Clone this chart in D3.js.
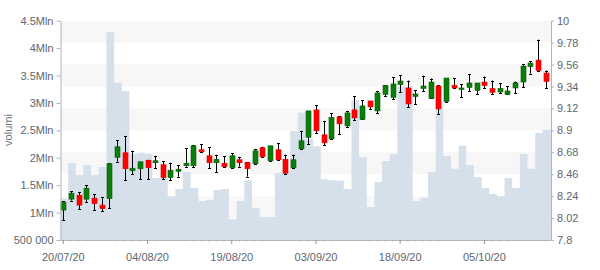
<!DOCTYPE html>
<html>
<head>
<meta charset="utf-8">
<script src="https://cdn.jsdelivr.net/npm/d3@7"></script>
<style>
  html, body { margin: 0; padding: 0; background: #fff; }
  svg { display: block; font-family: "Liberation Sans", Arial, sans-serif; }
</style>
</head>
<body>
<svg id="chart" width="600" height="270"></svg>
<script>
const dates = ["20/07/20","21/07/20","22/07/20","23/07/20","24/07/20","27/07/20","28/07/20","29/07/20","30/07/20","31/07/20",
"03/08/20","04/08/20","05/08/20","06/08/20","07/08/20","10/08/20","11/08/20","12/08/20","13/08/20","14/08/20","17/08/20","18/08/20","19/08/20","20/08/20","21/08/20","24/08/20","25/08/20","26/08/20","27/08/20","28/08/20","31/08/20",
"01/09/20","02/09/20","03/09/20","04/09/20","07/09/20","08/09/20","09/09/20","10/09/20","11/09/20","14/09/20","15/09/20","16/09/20","17/09/20","18/09/20","21/09/20","22/09/20","23/09/20","24/09/20","25/09/20","28/09/20","29/09/20","30/09/20",
"01/10/20","02/10/20","05/10/20","06/10/20","07/10/20","08/10/20","09/10/20","12/10/20","13/10/20","14/10/20","15/10/20"];

const open  = [8.10,8.21,8.25,8.21,8.22,8.15,8.215,8.63,8.675,8.495,8.515,8.60,8.575,8.555,8.425,8.49,8.545,8.545,8.705,8.645,8.575,8.57,8.525,8.605,8.58,8.565,8.725,8.595,8.705,8.61,8.525,8.715,8.83,9.105,8.855,8.815,9.035,8.945,9.105,9.01,9.195,9.095,9.26,9.23,9.36,9.325,9.24,9.32,9.22,9.345,9.19,9.35,9.31,9.33,9.30,9.385,9.32,9.285,9.26,9.325,9.385,9.54,9.605,9.475];
const high  = [8.19,8.29,8.28,8.35,8.26,8.23,8.57,8.80,8.845,8.695,8.585,8.605,8.645,8.59,8.575,8.55,8.72,8.75,8.76,8.73,8.655,8.64,8.67,8.635,8.58,8.715,8.735,8.745,8.77,8.655,8.655,8.895,9.095,9.15,8.995,9.07,9.04,9.095,9.24,9.20,9.195,9.295,9.355,9.435,9.455,9.40,9.30,9.45,9.42,9.35,9.425,9.425,9.36,9.465,9.375,9.44,9.40,9.375,9.34,9.39,9.565,9.595,9.81,9.50];
const low   = [8.00,8.195,8.11,8.18,8.10,8.09,8.12,8.585,8.40,8.46,8.41,8.41,8.52,8.41,8.40,8.435,8.535,8.53,8.685,8.52,8.48,8.535,8.525,8.535,8.435,8.565,8.63,8.595,8.605,8.465,8.525,8.715,8.76,8.87,8.75,8.815,8.86,8.93,9.00,9.01,9.11,9.07,9.24,9.21,9.28,9.13,9.16,9.29,9.22,9.06,9.185,9.32,9.23,9.29,9.26,9.325,9.26,9.27,9.26,9.27,9.33,9.47,9.50,9.32];
const close = [8.18,8.27,8.15,8.32,8.165,8.115,8.565,8.735,8.515,8.52,8.585,8.525,8.595,8.425,8.50,8.51,8.57,8.745,8.685,8.575,8.61,8.535,8.645,8.575,8.515,8.695,8.635,8.745,8.605,8.47,8.605,8.795,9.095,8.895,8.775,9.03,8.965,9.075,9.025,9.145,9.135,9.275,9.35,9.365,9.395,9.165,9.265,9.345,9.385,9.115,9.425,9.325,9.325,9.375,9.375,9.35,9.28,9.32,9.295,9.375,9.545,9.575,9.50,9.39];
const volume = [1250000,1900000,1690000,1870000,1690000,1830000,4290000,3370000,3220000,2070000,2090000,2070000,1630000,1630000,1300000,1430000,1740000,1450000,1210000,1230000,1410000,1430000,880000,1210000,1590000,1080000,920000,920000,1720000,1760000,2490000,2820000,2340000,2210000,1610000,1590000,1580000,1430000,3050000,2010000,1100000,1560000,1940000,2070000,3300000,3300000,1210000,1270000,1740000,3020000,2030000,1800000,2220000,1870000,1650000,1450000,1340000,1300000,1630000,1450000,2070000,1800000,2450000,2510000];

const volTicks = [500000,1000000,1500000,2000000,2500000,3000000,3500000,4000000,4500000];
const volTickLabels = ["500 000","1Mln","1.5Mln","2Mln","2.5Mln","3Mln","3.5Mln","4Mln","4.5Mln"];
const priceTicks = [7.8,8.02,8.24,8.46,8.68,8.9,9.12,9.34,9.56,9.78,10];
const priceTickLabels = ["7.8","8.02","8.24","8.46","8.68","8.9","9.12","9.34","9.56","9.78","10"];
const xTickLabels = ["20/07/20","04/08/20","19/08/20","03/09/20","18/09/20","05/10/20"];
const axisTitle = "volumi";

(function draw() {
  const svg = d3.select("#chart");
  const pL = 60.5, pR = 550.5, pT = 20.7, pB = 240;
  const axisColor = "#b4b4b4", textColor = "#5e6670";

  const x = d3.scaleBand().domain(dates).range([pL, pR]).padding(0);
  const yVol = d3.scaleLinear().domain([500000, 4500000]).range([pB, pT]);
  const yPrice = d3.scaleLinear().domain([7.8, 10]).range([pB, pT]);
  const candleW = 5;
  const cx = d => x(d) + 0.3 + candleW / 2;

  // alternating bands
  const bands = svg.append("g");
  for (let i = priceTicks.length - 1; i > 0; i -= 2) {
    bands.append("rect")
      .attr("x", pL).attr("width", pR - pL + 0.5)
      .attr("y", yPrice(priceTicks[i])).attr("height", yPrice(priceTicks[i-1]) - yPrice(priceTicks[i]))
      .attr("fill", "#f7f7f7");
  }

  // volume step area
  const volPts = dates.map((d, i) => ({ x: x(d), v: volume[i] }));
  volPts.push({ x: pR + 0.5, v: volume[volume.length - 1] });
  svg.append("path")
    .datum(volPts)
    .attr("fill", "#d6e0ea")
    .attr("d", d3.area().curve(d3.curveStepAfter).x(p => p.x).y0(pB).y1(p => yVol(p.v)));

  // candles
  const cg = svg.append("g");
  dates.forEach((d, i) => {
    const c = Math.round(cx(d)) + 0.5;
    const up = close[i] >= open[i];
    const g = cg.append("g");
    g.append("line").attr("x1", c).attr("x2", c)
      .attr("y1", yPrice(high[i])).attr("y2", yPrice(low[i]))
      .attr("stroke", "#000").attr("stroke-width", 1);
    [high[i], low[i]].forEach(v => {
      g.append("line").attr("x1", c - 1.5).attr("x2", c + 1.5)
        .attr("y1", Math.round(yPrice(v)) + 0.5).attr("y2", Math.round(yPrice(v)) + 0.5)
        .attr("stroke", "#000").attr("stroke-width", 1);
    });
    const yT = yPrice(Math.max(open[i], close[i]));
    const yB = yPrice(Math.min(open[i], close[i]));
    g.append("rect")
      .attr("x", c - candleW / 2).attr("width", candleW)
      .attr("y", yT).attr("height", Math.max(1.5, yB - yT))
      .attr("fill", up ? "#0a7d0a" : "#ff0000")
      .attr("stroke", up ? "#056005" : "#e00000").attr("stroke-width", 0.6);
  });

  // left axis
  const gl = svg.append("g").attr("transform", `translate(${pL},0)`)
    .call(d3.axisLeft(yVol).tickValues(volTicks).tickFormat((v, i) => volTickLabels[i]).tickSize(4).tickPadding(3).tickSizeOuter(0));
  // right axis
  const gr = svg.append("g").attr("transform", `translate(${pR + 0.5},0)`)
    .call(d3.axisRight(yPrice).tickValues(priceTicks).tickFormat((v, i) => priceTickLabels[i]).tickSize(3).tickPadding(3).tickSizeOuter(0));
  // x axis minor ticks
  const gxm = svg.append("g").attr("transform", `translate(0,${pB})`)
    .call(d3.axisBottom(x).tickSize(2).tickFormat(""))
    .call(g => g.selectAll(".tick").attr("transform", d => `translate(${cx(d)},0)`));
  gxm.selectAll(".tick line").attr("stroke", "#d8d8d8");
  gxm.select(".domain").remove();
  // x axis major ticks
  const gx = svg.append("g").attr("transform", `translate(0,${pB})`)
    .call(d3.axisBottom(x).tickValues(xTickLabels).tickSize(4).tickPadding(9).tickSizeOuter(0))
    .call(g => g.selectAll(".tick").attr("transform", d => `translate(${cx(d)},0)`));
  gx.select(".domain").attr("d", `M${pL},0.5H${pR + 0.5}`);

  [gl, gr, gx].forEach(g => {
    g.select(".domain").attr("stroke", axisColor);
    g.selectAll("text").attr("fill", textColor).attr("font-size", 11).attr("font-family", "Liberation Sans, Arial, sans-serif");
  });
  gl.selectAll(".tick line").attr("stroke", axisColor);
  gr.selectAll(".tick line").attr("stroke", axisColor);
  gx.selectAll(".tick line").attr("stroke", "#999");

  svg.append("text")
    .attr("transform", "translate(12,130) rotate(-90)")
    .attr("text-anchor", "middle")
    .attr("fill", "#6b7580")
    .attr("font-size", 11)
    .text(axisTitle);
})();
</script>
</body>
</html>
